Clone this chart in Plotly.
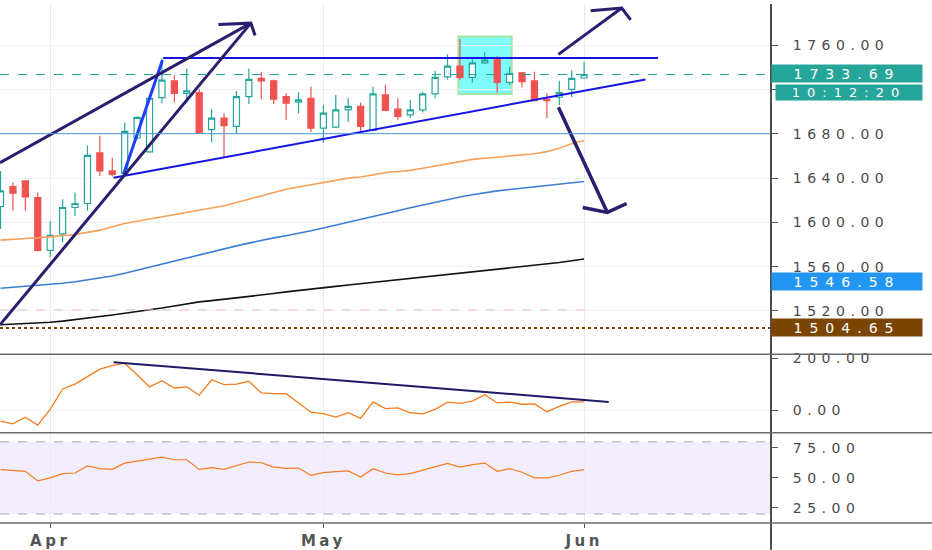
import plotly.graph_objects as go
from plotly.subplots import make_subplots

# daily bars (trading days only)
dates = ["2020-03-26", "2020-03-27", "2020-03-30", "2020-03-31",
         "2020-04-01", "2020-04-02", "2020-04-03", "2020-04-06", "2020-04-07",
         "2020-04-08", "2020-04-09", "2020-04-10", "2020-04-13", "2020-04-14",
         "2020-04-15", "2020-04-16", "2020-04-17", "2020-04-20", "2020-04-21",
         "2020-04-22", "2020-04-23", "2020-04-24", "2020-04-27", "2020-04-28",
         "2020-04-29", "2020-04-30",
         "2020-05-01", "2020-05-04", "2020-05-05", "2020-05-06", "2020-05-07",
         "2020-05-08", "2020-05-11", "2020-05-12", "2020-05-13", "2020-05-14",
         "2020-05-15", "2020-05-18", "2020-05-19", "2020-05-20", "2020-05-21",
         "2020-05-22", "2020-05-25", "2020-05-26", "2020-05-27", "2020-05-28",
         "2020-05-29", "2020-06-01"]

opens = [1614.4, 1632.4, 1637.5, 1622.5,
         1574.7, 1589.6, 1613.5, 1617.1, 1662.9, 1646.5, 1644.3, 1676.3, 1663.8, 1712.8,
         1728.0, 1716.7, 1717.3, 1683.8, 1694.3, 1686.8, 1713.7, 1730.1, 1728.0, 1713.7,
         1708.6, 1712.2,
         1685.3, 1686.2, 1701.7, 1704.8, 1683.2, 1715.2, 1702.3, 1697.2, 1701.7, 1716.1,
         1731.6, 1741.2, 1731.0, 1744.2, 1748.1, 1726.6, 1735.2, 1728.0, 1711.3, 1713.1,
         1720.3, 1730.5]
highs = [1646.5, 1636.0, 1638.0, 1627.0,
         1601.6, 1621.0, 1627.0, 1669.4, 1678.4, 1658.4, 1690.4, 1696.0, 1713.5, 1748.1,
         1733.1, 1739.1, 1720.3, 1702.3, 1698.7, 1718.7, 1739.1, 1736.1, 1729.2, 1716.7,
         1717.6, 1722.7,
         1706.2, 1715.2, 1712.2, 1708.3, 1722.7, 1724.1, 1712.2, 1710.7, 1718.2, 1737.0,
         1752.0, 1766.0, 1747.2, 1754.1, 1750.1, 1740.6, 1735.5, 1736.1, 1716.7, 1728.0,
         1737.6, 1745.1]
lows = [1594.0, 1610.6, 1610.6, 1573.8,
        1568.7, 1582.0, 1606.0, 1610.6, 1642.0, 1641.4, 1643.4, 1675.0, 1663.0, 1707.7,
        1708.3, 1707.7, 1679.9, 1672.5, 1658.4, 1679.9, 1707.1, 1711.3, 1707.1, 1692.8,
        1698.7, 1681.4,
        1671.9, 1685.3, 1690.7, 1682.3, 1682.3, 1700.5, 1692.8, 1694.3, 1699.3, 1712.2,
        1729.2, 1728.6, 1726.3, 1743.0, 1717.3, 1724.1, 1722.1, 1709.5, 1694.3, 1706.2,
        1713.1, 1730.1]
closes = [1628.5, 1626.4, 1623.1, 1574.7,
          1588.2, 1613.5, 1617.1, 1660.5, 1646.5, 1643.4, 1682.3, 1694.9, 1712.2, 1728.6,
          1716.7, 1719.0, 1681.4, 1694.3, 1687.4, 1713.7, 1729.2, 1728.0, 1711.3, 1707.7,
          1710.7, 1685.3,
          1698.7, 1701.7, 1704.8, 1686.8, 1716.1, 1701.2, 1695.8, 1701.7, 1716.1, 1731.0,
          1741.2, 1731.0, 1744.2, 1746.6, 1726.6, 1734.6, 1727.2, 1710.1, 1710.1, 1717.3,
          1730.1, 1733.69]

# moving averages
ma_orange = [1584, 1585, 1585.5, 1586,
             1587, 1588, 1589, 1591, 1593, 1596, 1599, 1601, 1603, 1605, 1607, 1609,
             1611, 1613, 1615, 1618, 1621, 1624, 1627, 1630, 1632, 1634,
             1636, 1638, 1640, 1641, 1643, 1645, 1646, 1647, 1649, 1651, 1653, 1655,
             1657, 1658, 1659, 1660, 1661, 1662, 1664, 1667, 1671, 1674]
ma_blue = [1540.5, 1541.3, 1542.2, 1543.1,
           1544, 1545, 1546.3, 1548, 1549.5, 1551.5, 1554, 1556.8, 1559.7, 1562.5,
           1565.3, 1568, 1570.8, 1573.5, 1576, 1578.8, 1581.3, 1583.8, 1586, 1588,
           1590, 1592.5,
           1595, 1597.5, 1600, 1602.8, 1605.4, 1608, 1610.6, 1613.2, 1615.8, 1618.4,
           1621, 1623, 1625, 1627, 1628.5, 1629.8, 1631, 1632.2, 1633.2, 1634.3,
           1635.5, 1637]
ma_black = [1507.5, 1508, 1508.6, 1509.2,
            1509.8, 1510.8, 1512, 1513.4, 1514.9, 1516.3, 1517.8, 1519.3, 1520.9, 1522.6,
            1524.5, 1526.4, 1528.2, 1529.3, 1530.5, 1531.6, 1532.8, 1534.2, 1535.7, 1537.2,
            1538.6, 1539.8,
            1541, 1542.2, 1543.4, 1544.6, 1545.8, 1547, 1548.3, 1549.5, 1550.7, 1551.9,
            1553, 1554.2, 1555.4, 1556.6, 1557.8, 1558.9, 1560, 1561.1, 1562.2, 1563.7,
            1565.3, 1567]

cci = [-42, -53, -27, -58,
       3, 82, 101, 131, 159, 173, 182, 137, 90, 114, 86, 90, 58, 118, 99, 101, 112,
       67, 64, 64, 28, -8,
       -13, -27, -10, -32, 32, 6, 9, -10, -14, 3, 31, 26, 35, 60, 28, 31, 23, 24,
       -6, 15, 32, 32]
rsi = [56.9, 56.3, 55.5, 47.5,
       50, 53.6, 54.1, 59.9, 57.7, 57.1, 62.3, 64, 65.9, 67.3, 65.1, 65.1, 57.1, 58.5,
       57.1, 60.4, 63.2, 62.6, 59, 57.9, 58.2, 52.2,
       54.4, 55.2, 55.8, 50.8, 57.7, 54.1, 52.5, 53.6, 56.3, 59.6, 62.1, 59, 61, 62.3,
       55.5, 57.7, 54.7, 50, 50, 52.2, 55.5, 56.9]

# levels and drawings
last_price = 1733.69
support_level = 1680.2
prev_close_level = 1521
low_level = 1504.65
blue_tag = 1546.58
countdown = "10:12:20"
resistance = (["2020-04-14 14:24", "2020-06-09 10:48"], [1748.5, 1748.5])
rising_support = (["2020-04-08 14:24", "2020-06-08 10:34"], [1640.4, 1729.2])
impulse = (["2020-04-09 09:36", "2020-04-14 13:00"], [1643.4, 1746.5])
arrow_upper = (["2020-03-26 11:00", "2020-04-23 15:50"], [1653.9, 1780.1])
arrow_lower = (["2020-03-26 11:00", "2020-04-23 15:50"], [1507.4, 1780.1])
arrow_head = (["2020-04-21 01:10", "2020-04-23 15:50", "2020-04-24 00:00"], [1778.8, 1780.1, 1769.0])
up_arrow = (["2020-05-28 10:19", "2020-06-04 12:43", None, "2020-06-02 00:43", "2020-06-04 12:43", "2020-06-05 06:00"],
            [1751.9, 1793.8, None, 1791.4, 1793.8, 1783.0])
down_arrow = (["2020-05-28 10:19", "2020-06-03 08:53", None, "2020-06-01 09:22", "2020-06-03 08:53", "2020-06-04 22:19"],
              [1704.1, 1609.0, None, 1613.5, 1609.0, 1617.1])
box_dates = ["2020-05-18 08:53", "2020-05-22 16:00"]
box_prices = [1716.1, 1768.1]
cci_trend = (["2020-04-08 14:24", "2020-06-03 11:30"], [186, 32])

price_ticks = [1520, 1560, 1600, 1640, 1680, 1720, 1760]
cci_ticks = [0, 200]
rsi_ticks = [25, 50, 75]
month_ticks = ["2020-04-01 12:00", "2020-05-01 12:00", "2020-06-01 12:00"]
month_labels = ["Apr", "May", "Jun"]

bar_x = [d + " 12:00" for d in dates]
x_range = ["2020-03-26 11:00", "2020-06-22 13:12"]

navy = "#2a1e6e"
fnt = "DejaVu Sans"

fig = make_subplots(rows=3, cols=1, shared_xaxes=True, vertical_spacing=0,
                    row_heights=[353, 79, 91])

for vals, col in [(ma_black, "#111111"), (ma_blue, "#3a7fd5"), (ma_orange, "#f7a05a")]:
    fig.add_trace(go.Scatter(x=bar_x, y=vals, mode="lines",
                             line=dict(color=col, width=1.6)), row=1, col=1)

fig.add_trace(go.Candlestick(
    x=bar_x, open=opens, high=highs, low=lows, close=closes,
    increasing=dict(line=dict(color="#26a69a", width=1.2), fillcolor="#ffffff"),
    decreasing=dict(line=dict(color="#ef5350", width=1.2), fillcolor="#ef5350"),
    whiskerwidth=0), row=1, col=1)

def seg(pts, color, width):
    fig.add_trace(go.Scatter(x=pts[0], y=pts[1], mode="lines",
                             line=dict(color=color, width=width)), row=1, col=1)

seg(resistance, "#1414e6", 2)
seg(rising_support, "#1414e6", 2)
seg(impulse, "#1f3cff", 3)
seg(arrow_upper, navy, 3)
seg(arrow_lower, navy, 3)
seg(arrow_head, navy, 3)
seg(up_arrow, navy, 3)
seg(down_arrow, navy, 3.5)

fig.add_trace(go.Scatter(x=bar_x, y=cci, mode="lines",
                         line=dict(color="#f57c1f", width=1.3)), row=2, col=1)
fig.add_trace(go.Scatter(x=cci_trend[0], y=cci_trend[1], mode="lines",
                         line=dict(color="#1f1a66", width=2)), row=2, col=1)
fig.add_trace(go.Scatter(x=bar_x, y=rsi, mode="lines",
                         line=dict(color="#f57c1f", width=1.2)), row=3, col=1)

# highlighted box
fig.add_shape(type="rect", xref="x", yref="y", x0=box_dates[0], x1=box_dates[1],
              y0=box_prices[0], y1=box_prices[1], fillcolor="#7ffbfb",
              line=dict(color="#a9e3a3", width=2), layer="below")

# horizontal levels
fig.add_hline(y=support_level, line=dict(color="#4a98de", width=1), row=1, col=1)
fig.add_hline(y=last_price, line=dict(color="#26a69a", width=1, dash="dash"), row=1, col=1)
fig.add_hline(y=low_level, line=dict(color="#7b4506", width=2, dash="dot"), row=1, col=1)
fig.add_shape(type="line", xref="x", yref="y", x0=x_range[0], x1="2020-06-02 00:00",
              y0=prev_close_level, y1=prev_close_level,
              line=dict(color="#efbcbc", width=1, dash="dash"))

# RSI band
fig.add_shape(type="rect", xref="x3 domain", yref="y3", x0=0, x1=1, y0=20, y1=80,
              fillcolor="rgba(160,110,240,0.12)", line_width=0, layer="below")
for lvl in (20, 80):
    fig.add_hline(y=lvl, line=dict(color="#a8a8b0", width=1, dash="dash"), row=3, col=1)

# pane borders
fig.add_shape(type="line", xref="paper", yref="paper", x0=1, x1=1, y0=-27 / 523, y1=1,
              line=dict(color="#4d4d4d", width=2))
for yp in (0, 91 / 523, 170 / 523):
    fig.add_shape(type="line", xref="paper", yref="paper", x0=0, x1=932 / 771, y0=yp, y1=yp,
                  line=dict(color="#6a6a6a", width=1.5))

# price tags
def tag(text, y, color, yshift=0, xshift=0, w=150, h=17, size=14):
    fig.add_annotation(text=text, xref="paper", x=1, xanchor="left", yref="y", y=y,
                       yanchor="middle", showarrow=False, bgcolor=color, width=w, height=h,
                       borderpad=0, xshift=xshift, yshift=yshift, align="center",
                       font=dict(family=fnt, size=size, color="#ffffff"))

tag(f"{last_price:.2f}", last_price, "#26a69a", yshift=1)
tag(countdown, last_price, "#26a69a", yshift=-18, xshift=4, w=146, h=15, size=13)
tag(f"{blue_tag:.2f}", blue_tag, "#2196f3")
tag(f"{low_level:.2f}", low_level, "#7b4506")

axis_font = dict(family=fnt, size=14, color="#4a4a4a")
fig.update_yaxes(side="right", ticks="outside", ticklen=6, tickcolor="#555555",
                 tickformat=".2f", tickfont=axis_font, gridcolor="#eef1f6",
                 zeroline=False, ticklabelstandoff=12)
fig.update_yaxes(range=[1480.8, 1797.4], tickvals=price_ticks, row=1, col=1)
fig.update_yaxes(range=[-87.3, 216.5], tickvals=cci_ticks, row=2, col=1)
fig.update_yaxes(range=[12.5, 87.6], tickvals=rsi_ticks, row=3, col=1)

fig.update_xaxes(type="date", rangebreaks=[dict(bounds=["sat", "mon"])], range=x_range,
                 tickvals=month_ticks, ticktext=month_labels, showgrid=True,
                 gridcolor="#e8ebf1", zeroline=False, rangeslider_visible=False)
fig.update_xaxes(ticks="outside", ticklen=4, tickcolor="#555555",
                 tickfont=dict(family=fnt, size=15, color="#555555", weight="bold"),
                 row=3, col=1)

fig.update_layout(width=932, height=550, margin=dict(l=0, r=161, t=0, b=27),
                  paper_bgcolor="#ffffff", plot_bgcolor="#ffffff",
                  showlegend=False, hovermode=False)

# page without body margin; wide letter spacing like the trading terminal font
post = """
document.body.style.margin = '0';
var gd = document.getElementById('{plot_id}');
function spread() {
  gd.querySelectorAll('.yaxislayer-above text').forEach(function (t) { t.style.letterSpacing = '5.5px'; });
  gd.querySelectorAll('.xaxislayer-above text').forEach(function (t) { t.style.letterSpacing = '3.5px'; });
  gd.querySelectorAll('.annotation-text').forEach(function (t) { t.style.letterSpacing = '7px'; });
}
spread();
gd.on('plotly_afterplot', spread);
"""
fig.write_html("out.html", post_script=post, config={"displayModeBar": False})
